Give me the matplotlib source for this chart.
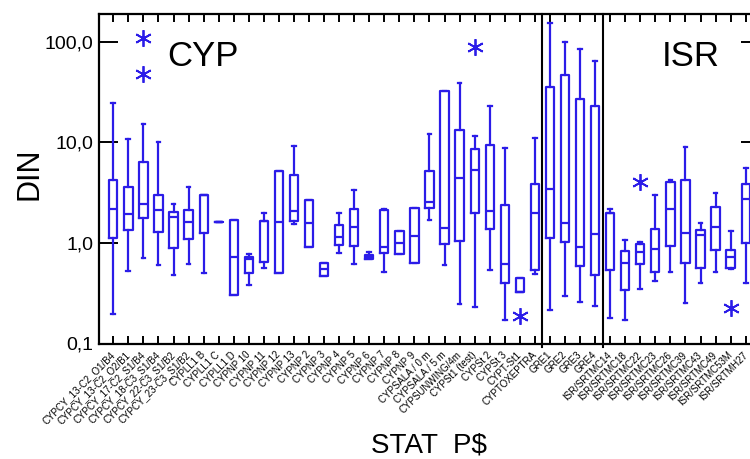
import matplotlib
matplotlib.use("Agg")
import matplotlib.pyplot as plt
from matplotlib.ticker import FixedLocator, NullLocator

plt.rcParams['font.family'] = ['Liberation Sans', 'DejaVu Sans']

labels = [
    "CYPCY_13-C2_O1/B4", "CYPCY_13-C2_O2/B1", "CYPCY_17-C2_S1/B4", "CYPCY_18-C3_S1/B4",
    "CYPCY_22-C3_S1/B2", "CYPCY_23-C3_S1/B2", "CYPLL1 B", "CYPLL1 C", "CYPLL1 D",
    "CYPNP 10", "CYPNP 11", "CYPNP 12", "CYPNP 13", "CYPNP 2", "CYPNP 3", "CYPNP 4",
    "CYPNP 5", "CYPNP 6", "CYPNP 7", "CYPNP 8", "CYPNP 9", "CYPSALA / 0 m",
    "CYPSALA / 5 m", "CYPSUNWING/4m", "CYPSt1 (test)", "CYPSt 2", "CYPSt 3",
    "CYPT-St1", "CYPTOXEPTRA", "GRE1", "GRE2", "GRE3", "GRE4",
    "ISR/SRTMC14", "ISR/SRTMC18", "ISR/SRTMC22", "ISR/SRTMC23", "ISR/SRTMC26",
    "ISR/SRTMC39", "ISR/SRTMC43", "ISR/SRTMC49", "ISR/SRTMC53M", "ISR/SRTMH27",
]
whislo = [0.198, 0.527, 0.714, 0.604, 0.481, 0.613, 0.507, 1.62, 0.304, 0.383, 0.568,
          0.499, 1.53, 0.919, 0.466, 0.788, 0.623, 0.687, 0.519, 0.783, 0.627, 1.69,
          0.599, 0.245, 0.231, 0.534, 0.172, 0.326, 0.488, 0.216, 0.297, 0.261, 0.237,
          0.178, 0.172, 0.351, 0.419, 0.519, 0.251, 0.403, 0.519, 0.556, 0.403]
q1 = [1.13, 1.35, 1.76, 1.29, 0.884, 1.10, 1.25, 1.62, 0.304, 0.507, 0.647,
      0.499, 1.65, 0.919, 0.466, 0.955, 0.933, 0.687, 0.80, 0.783, 0.627, 2.24,
      0.984, 1.05, 1.97, 1.39, 0.403, 0.326, 0.534, 1.13, 1.02, 0.59, 0.477,
      0.539, 0.338, 0.613, 0.519, 0.933, 0.637, 0.568, 0.852, 0.568, 1.0]
med = [2.16, 1.92, 2.46, 2.13, 1.81, 1.62, 3.02, 1.62, 0.726, 0.687, 1.65,
       1.62, 2.08, 1.57, 0.547, 1.15, 1.44, 0.725, 0.912, 1.0, 1.17, 2.56,
       1.42, 4.46, 5.32, 2.08, 0.623, 0.326, 1.97, 3.47, 1.57, 0.919, 1.22,
       1.96, 0.637, 0.814, 0.864, 2.19, 1.25, 1.19, 1.45, 0.726, 2.71]
q3 = [4.23, 3.57, 6.38, 3.02, 2.03, 2.13, 3.02, 1.62, 1.69, 0.731, 1.65,
      5.2, 4.74, 2.69, 0.637, 1.51, 2.16, 0.753, 2.11, 1.32, 2.21, 5.2,
      32.4, 13.2, 8.65, 9.34, 2.36, 0.445, 3.89, 35.5, 46.3, 27.2, 23.0,
      2.0, 0.832, 0.984, 1.37, 4.07, 4.23, 1.35, 2.30, 0.852, 3.83]
whishi = [24.4, 10.8, 15.1, 10.1, 2.46, 3.57, 3.02, 1.62, 1.69, 0.77, 1.97,
          5.2, 9.27, 2.69, 0.637, 2.0, 3.33, 0.82, 2.19, 1.32, 2.21, 12.0,
          32.4, 39.2, 11.6, 23.0, 8.86, 0.445, 10.96, 152.0, 99.6, 84.1, 64.4,
          2.16, 1.06, 1.02, 2.97, 4.23, 9.0, 1.59, 3.16, 1.32, 5.6]
outliers = {2: [110.0, 47.4], 24: [88.8], 27: [0.188], 35: [4.04], 41: [0.227]}
group_names = ["CYP", "ISR"]
y_ticks = [0.1, 1.0, 10.0, 100.0]
y_ticklabels = ["0,1", "1,0", "10,0", "100,0"]
group_breaks = [28.5, 32.5]

blue = '#2b1ce8'

stats = []
for i, lab in enumerate(labels):
    stats.append(dict(label=lab, whislo=whislo[i], q1=q1[i], med=med[i], q3=q3[i],
                      whishi=whishi[i], fliers=outliers.get(i, [])))

fig = plt.figure(figsize=(7.5, 4.59), dpi=100)
ax = fig.add_axes([99/750, 115.5/459, 661/750, 329.5/459])

lw = 1.6
ax.bxp(stats, positions=range(len(labels)), widths=0.55, showcaps=True,
       capwidths=0.25,
       boxprops=dict(color=blue, linewidth=lw),
       whiskerprops=dict(color=blue, linewidth=lw),
       capprops=dict(color=blue, linewidth=lw),
       medianprops=dict(color=blue, linewidth=lw),
       flierprops=dict(marker=(6, 2, 0), markersize=12, markeredgecolor=blue,
                       markerfacecolor=blue, markeredgewidth=1.3, linestyle='none'))

for xb in group_breaks:
    ax.axvline(xb, color='black', linewidth=1.5, clip_on=False, ymin=-0.01, ymax=1.0)

ax.set_yscale('log')
ax.set_ylim(0.1, 188.5)
ax.set_xlim(-0.95, len(labels) - 1 + 0.95)

ax.yaxis.set_major_locator(FixedLocator(y_ticks))
ax.set_yticklabels(y_ticklabels, fontsize=14)
ax.yaxis.set_minor_locator(NullLocator())
ax.set_xticks(range(len(labels)))
ax.set_xticklabels(labels, fontsize=7, rotation=45, ha='right', va='center',
                   rotation_mode='anchor')

ax.tick_params(axis='x', which='major', direction='in', length=6, width=1.4,
               top=True, bottom=True, pad=7)
ax.tick_params(axis='y', which='major', direction='in', length=14, width=1.4,
               left=True, right=True, pad=4)
for s in ax.spines.values():
    s.set_linewidth(1.6)

ax.text(0.157, 0.87, group_names[0], transform=ax.transAxes, fontsize=25,
        ha='center', va='center')
ax.text(0.895, 0.87, group_names[1], transform=ax.transAxes, fontsize=25,
        ha='center', va='center')

fig.text(0.04, 0.621, "DIN", rotation=90, fontsize=22, ha='center', va='center')
fig.text(0.572, 0.0305, "STAT  P$", fontsize=20, ha='center', va='center')

fig.savefig("out.png", dpi=100)
